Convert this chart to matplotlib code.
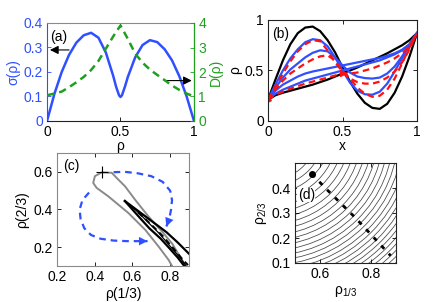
import numpy as np
import matplotlib
matplotlib.use("Agg")
import matplotlib.pyplot as plt
from matplotlib.patches import Circle

plt.rcParams['font.family'] = ['Liberation Sans', 'DejaVu Sans']
plt.rcParams['mathtext.fontset'] = 'custom'
plt.rcParams['mathtext.rm'] = 'Liberation Sans'
plt.rcParams['mathtext.it'] = 'Liberation Sans:italic'
plt.rcParams['font.size'] = 10

BLUE = '#3050ff'
GREEN = '#20a020'
RED = '#ff1010'
GRAY = '#8a8a8a'

# ---------- panel (a) data ----------
rho_sigma = [0, 0.05, 0.1, 0.15, 0.2, 0.25, 0.3, 0.35, 0.4, 0.45, 0.47, 0.49, 0.5,
             0.51, 0.53, 0.55, 0.6, 0.65, 0.7, 0.75, 0.8, 0.85, 0.9, 0.95, 1.0]
sigma_vals = [0, 0.11, 0.2, 0.27, 0.32, 0.35, 0.36, 0.34, 0.28, 0.185, 0.14, 0.105, 0.098,
              0.105, 0.14, 0.18, 0.26, 0.31, 0.33, 0.322, 0.293, 0.248, 0.183, 0.10, 0]
rho_D = [0, 0.05, 0.1, 0.15, 0.2, 0.25, 0.3, 0.35, 0.4, 0.45, 0.5,
         0.55, 0.6, 0.65, 0.7, 0.75, 0.8, 0.85, 0.9, 0.95, 1.0]
D_vals = [1.05, 1.12, 1.2, 1.38, 1.58, 1.8, 2.08, 2.45, 2.95, 3.45, 3.9,
          3.35, 2.75, 2.38, 2.1, 1.88, 1.67, 1.45, 1.27, 1.12, 1.0]

# ---------- panel (b) data ----------
x_b = [0, 0.05, 0.1, 0.15, 0.2, 0.25, 0.3, 0.35, 0.4, 0.45, 0.5,
       0.55, 0.6, 0.65, 0.7, 0.75, 0.8, 0.85, 0.9, 0.95, 1.0]
black_init = [0.21, 0.41, 0.60, 0.76, 0.87, 0.925, 0.935, 0.89, 0.80, 0.68, 0.53,
              0.39, 0.27, 0.18, 0.13, 0.12, 0.17, 0.28, 0.44, 0.64, 0.87]
black_final = [0.21, 0.255, 0.28, 0.30, 0.32, 0.34, 0.36, 0.385, 0.41, 0.44, 0.47,
               0.50, 0.53, 0.565, 0.60, 0.635, 0.67, 0.71, 0.75, 0.80, 0.87]
blue_1 = [0.21, 0.36, 0.50, 0.62, 0.71, 0.78, 0.81, 0.80, 0.74, 0.63, 0.50,
          0.38, 0.30, 0.265, 0.26, 0.29, 0.37, 0.49, 0.62, 0.75, 0.87]
blue_2 = [0.21, 0.33, 0.43, 0.51, 0.57, 0.63, 0.675, 0.70, 0.69, 0.63, 0.55,
          0.48, 0.44, 0.425, 0.42, 0.43, 0.47, 0.54, 0.64, 0.75, 0.87]
blue_3 = [0.21, 0.30, 0.36, 0.40, 0.44, 0.47, 0.49, 0.505, 0.52, 0.535, 0.55,
          0.565, 0.58, 0.595, 0.61, 0.625, 0.645, 0.67, 0.705, 0.76, 0.87]
blue_4 = [0.21, 0.27, 0.31, 0.34, 0.37, 0.40, 0.42, 0.44, 0.46, 0.48, 0.50,
          0.52, 0.54, 0.56, 0.58, 0.60, 0.63, 0.66, 0.70, 0.76, 0.87]
red_1 = [0.21, 0.34, 0.47, 0.59, 0.69, 0.76, 0.80, 0.79, 0.70, 0.58, 0.49,
         0.42, 0.33, 0.27, 0.24, 0.25, 0.31, 0.42, 0.57, 0.73, 0.87]
red_2 = [0.21, 0.31, 0.40, 0.47, 0.52, 0.57, 0.61, 0.64, 0.65, 0.60, 0.49,
         0.42, 0.385, 0.37, 0.37, 0.39, 0.43, 0.49, 0.58, 0.71, 0.87]
red_3 = [0.21, 0.26, 0.29, 0.32, 0.345, 0.37, 0.39, 0.41, 0.43, 0.45, 0.47,
         0.47, 0.48, 0.50, 0.52, 0.55, 0.58, 0.62, 0.67, 0.74, 0.87]
red_mark_x = [0.0, 0.5]
red_mark_y = [0.21, 0.48]

# ---------- panel (c) data ----------
gray_x = [0.88, 0.863, 0.81, 0.757, 0.685, 0.614, 0.561, 0.525, 0.49, 0.437,
          0.401, 0.392, 0.41, 0.472, 0.579, 0.668, 0.739, 0.792, 0.81]
gray_y = [0.10, 0.132, 0.22, 0.283, 0.363, 0.452, 0.523, 0.559, 0.595, 0.597,
          0.577, 0.541, 0.515, 0.47, 0.381, 0.292, 0.203, 0.132, 0.10]
plus_x, plus_y = 0.44, 0.598
blueA_x = [0.50, 0.56, 0.63, 0.70, 0.76, 0.80, 0.81, 0.805, 0.795, 0.78]
blueA_y = [0.598, 0.60, 0.592, 0.577, 0.547, 0.50, 0.45, 0.40, 0.35, 0.31]
blueB_x = [0.37, 0.335, 0.32, 0.325, 0.345, 0.38, 0.43, 0.50, 0.57, 0.64, 0.68]
blueB_y = [0.49, 0.45, 0.40, 0.35, 0.30, 0.265, 0.245, 0.235, 0.232, 0.232, 0.232]
blkA_x = [0.56, 0.60, 0.66, 0.72, 0.78, 0.84, 0.90]
blkA_y = [0.445, 0.415, 0.37, 0.325, 0.28, 0.225, 0.165]
blkB_x = [0.56, 0.60, 0.64, 0.69, 0.75, 0.80, 0.84, 0.875]
blkB_y = [0.445, 0.40, 0.355, 0.30, 0.245, 0.19, 0.145, 0.10]
blkC_x = [0.57, 0.62, 0.68, 0.74, 0.80, 0.86, 0.885]
blkC_y = [0.435, 0.395, 0.335, 0.275, 0.205, 0.135, 0.10]
blkD_x = [0.63, 0.70, 0.76, 0.82, 0.87, 0.895]
blkD_y = [0.385, 0.32, 0.26, 0.19, 0.13, 0.105]

# ---------- panel (d) data ----------
contour_center = (0.40, 0.62)
contour_radii = [0.16, 0.188, 0.215, 0.242, 0.268, 0.293, 0.317, 0.341, 0.364, 0.386,
                 0.408, 0.429, 0.45, 0.47, 0.49, 0.509, 0.528, 0.547, 0.565, 0.583,
                 0.601, 0.618, 0.635, 0.652, 0.669, 0.686, 0.703, 0.72]
ridge_x = [0.566, 0.62, 0.68, 0.74, 0.80, 0.879]
ridge_y = [0.457, 0.40, 0.34, 0.28, 0.215, 0.129]

W, H = 434, 302
fig = plt.figure(figsize=(W / 100, H / 100), dpi=100)

def axpix(l, r, t, b):
    return fig.add_axes([l / W, 1 - b / H, (r - l) / W, (b - t) / H])

def style(ax, spine_col='#222222', box=True):
    ax.tick_params(direction='in', length=3, width=0.6, pad=3, labelsize=10,
                   top=box, right=box)
    for s in ax.spines.values():
        s.set_linewidth(0.8)
        s.set_color(spine_col)

# (a)
axa = axpix(47, 194, 23, 121)
style(axa, box=False)
axa.tick_params(axis='x', top=True)
axa.plot(rho_sigma, sigma_vals, color=BLUE, lw=1.8)
axa.set_xlim(0, 1)
axa.set_ylim(0, 0.4)
axa.set_xticks([0, 0.5, 1])
axa.set_xticklabels(['0', '0.5', '1'])
axa.set_yticks([0, 0.1, 0.2, 0.3, 0.4])
axa.set_yticklabels(['0', '0.1', '0.2', '0.3', '0.4'])
axa.tick_params(axis='y', colors=BLUE)
axa.tick_params(axis='x', colors='black')
axa.spines['left'].set_color(BLUE)
axa.spines['top'].set_color(GRAY)
axa.set_ylabel('σ(ρ)', color=BLUE, labelpad=2)
axa.set_xlabel('ρ', labelpad=0)
axa.text(0.02, 0.93, '(a)', transform=axa.transAxes, va='top', ha='left')
axa.annotate('', xy=(0.02, 0.29), xytext=(0.15, 0.29),
             arrowprops=dict(arrowstyle='-|>,head_width=0.25,head_length=0.5',
                             color='black', lw=0.8, shrinkA=0, shrinkB=0))
axa.annotate('', xy=(0.985, 0.165), xytext=(0.8, 0.165),
             arrowprops=dict(arrowstyle='-|>,head_width=0.25,head_length=0.5',
                             color='black', lw=0.8, shrinkA=0, shrinkB=0))
axa2 = axa.twinx()
axa2.plot(rho_D, D_vals, color=GREEN, lw=1.8, ls=(0, (3, 2)))
axa2.set_ylim(0, 4)
axa2.set_yticks([0, 1, 2, 3, 4])
axa2.tick_params(direction='in', length=3, width=0.6, pad=3, labelsize=10, colors=GREEN)
axa2.spines['right'].set_color(GREEN)
axa2.spines['left'].set_visible(False)
axa2.spines['top'].set_visible(False)
axa2.spines['bottom'].set_visible(False)
axa2.set_ylabel('D(ρ)', color=GREEN, labelpad=2)

# (b)
axb = axpix(268, 417, 20, 121)
style(axb)
axb.plot(x_b, black_init, color='black', lw=1.6)
axb.plot(x_b, black_final, color='black', lw=1.6)
for yb in (blue_1, blue_2, blue_3, blue_4):
    axb.plot(x_b, yb, color=BLUE, lw=1.6)
for yr in (red_1, red_2, red_3):
    axb.plot(x_b, yr, color=RED, lw=1.6, ls=(0, (3, 2)))
axb.plot(red_mark_x, red_mark_y, ls='none', marker='>', color=RED, ms=4)
axb.set_xlim(0, 1)
axb.set_ylim(0, 1)
axb.set_xticks([0, 0.5, 1])
axb.set_xticklabels(['0', '0.5', '1'])
axb.set_yticks([0, 0.5, 1])
axb.set_yticklabels(['0', '0.5', '1'])
axb.set_xlabel('x', labelpad=0)
axb.set_ylabel('ρ', labelpad=2)
axb.text(0.03, 0.93, '(b)', transform=axb.transAxes, va='top', ha='left')

# (c)
axc = axpix(57, 189, 153, 266)
style(axc, GRAY)
axc.plot(gray_x, gray_y, color=GRAY, lw=1.4)
axc.plot(blkA_x, blkA_y, color='black', lw=1.6)
axc.plot(blkB_x, blkB_y, color='black', lw=1.6)
axc.plot(blkC_x, blkC_y, color='black', lw=0.9)
axc.plot(blkD_x, blkD_y, color='black', lw=1.4, ls=(0, (3, 2)))
axc.plot([plus_x], [plus_y], marker='+', color='black', ms=8, mew=0.8)
axc.plot(blueA_x, blueA_y, color=BLUE, lw=1.6, ls=(0, (3, 2.2)))
axc.plot(blueB_x, blueB_y, color=BLUE, lw=1.6, ls=(0, (3, 2.2)))
for xs, ys in ((blueA_x, blueA_y), (blueB_x, blueB_y)):
    axc.annotate('', xy=(xs[-1], ys[-1]), xytext=(xs[-2], ys[-2]),
                 arrowprops=dict(arrowstyle='-|>,head_width=0.3,head_length=0.6',
                                 color=BLUE, lw=0.1, shrinkA=0, shrinkB=0))
axc.set_xlim(0.2, 0.9)
axc.set_ylim(0.1, 0.7)
axc.set_xticks([0.2, 0.4, 0.6, 0.8])
axc.set_yticks([0.2, 0.4, 0.6])
axc.set_xlabel('ρ(1/3)', labelpad=2)
axc.set_ylabel('ρ(2/3)', labelpad=3)
axc.text(0.05, 0.95, '(c)', transform=axc.transAxes, va='top', ha='left')

# (d)
axd = axpix(295, 396, 163, 263)
style(axd)
for r in contour_radii:
    axd.add_patch(Circle(contour_center, r, fill=False, lw=0.55, ec='#444444'))
axd.plot(ridge_x, ridge_y, color='black', lw=2.0, ls=(0, (1.6, 2.4)))
axd.plot([ridge_x[0]], [ridge_y[0]], marker='o', color='black', ms=4)
axd.set_xlim(0.5, 0.9)
axd.set_ylim(0.1, 0.5)
axd.set_xticks([0.6, 0.8])
axd.set_yticks([0.1, 0.2, 0.3, 0.4])
axd.set_xlabel(r'ρ$_{1/3}$', labelpad=2)
axd.set_ylabel(r'ρ$_{2/3}$', labelpad=2)
axd.text(0.545, 0.372, '(d)', ha='center', va='center',
         bbox=dict(fc='white', ec='none', pad=0.3))

fig.savefig('out.png', dpi=100)
